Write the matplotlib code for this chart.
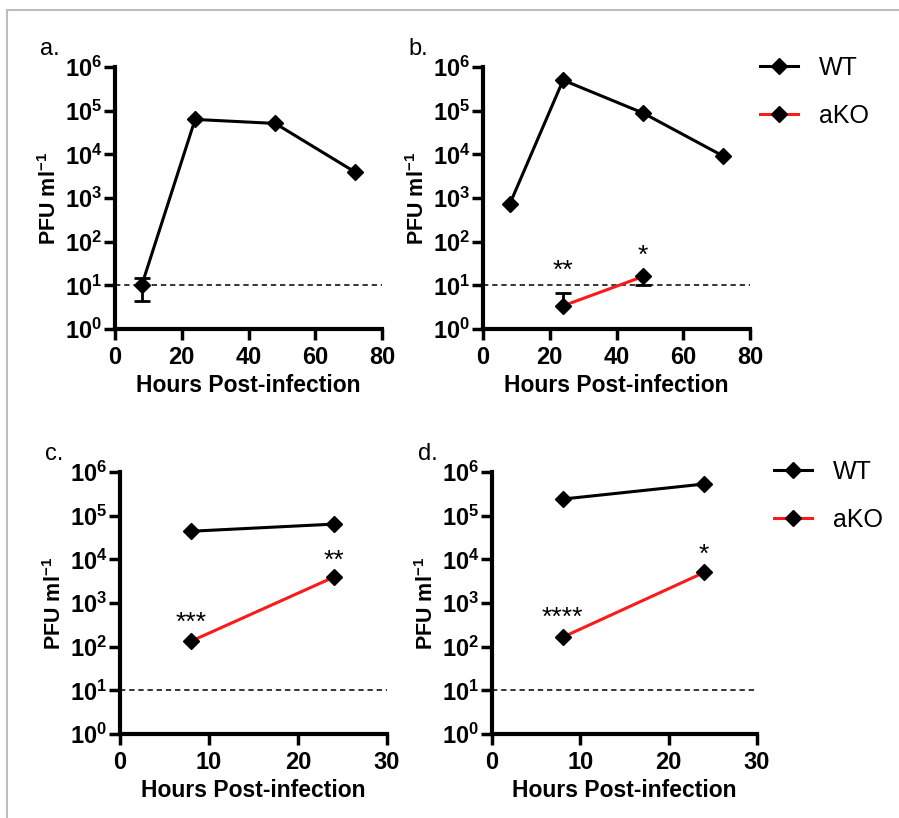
import numpy as np
import matplotlib
matplotlib.use("Agg")
import matplotlib.pyplot as plt
from matplotlib.lines import Line2D
from matplotlib.ticker import LogLocator, NullFormatter, FixedLocator, FuncFormatter

plt.rcParams["font.family"] = ["Liberation Sans", "DejaVu Sans"]
plt.rcParams["mathtext.fontset"] = "custom"
plt.rcParams["mathtext.rm"] = "Liberation Sans:bold"
plt.rcParams["mathtext.it"] = "Liberation Sans:bold"
plt.rcParams["mathtext.bf"] = "Liberation Sans:bold"

# --- data ---
hours_a = [8, 24, 48, 72]
wt_a = [10, 6.3e4, 5.1e4, 3.9e3]
err_a_x = [8]
err_a_lo = [4.4]
err_a_hi = [15]

hours_b = [8, 24, 48, 72]
wt_b = [7.2e2, 5.0e5, 8.8e4, 9.1e3]
hours_b_ko = [24, 48]
ako_b = [3.4, 16]
ako_b_lo = [3.4, 10]      # lower error bound (== value means none)
ako_b_hi = [6.6, 16]      # upper error bound
stars_b = ["**", "*"]
stars_b_y = [10**1.42, 10**1.78]

hours_cd = [8, 24]
wt_c = [4.4e4, 6.4e4]
ako_c = [1.34e2, 3.9e3]
stars_c = ["***", "**"]
stars_c_y = [10**2.65, 10**4.07]

wt_d = [2.4e5, 5.3e5]
ako_d = [1.65e2, 5.0e3]
stars_d = ["****", "*"]
stars_d_y = [10**2.75, 10**4.2]

detection_limit = 10

RED = "#ff1a1a"
LW = 2.2
MS = 8


def style_axis(ax, xmax, xstep, label):
    ax.set_yscale("log")
    ax.set_ylim(1, 1e6)
    ax.set_xlim(0, xmax)
    ax.spines["top"].set_visible(False)
    ax.spines["right"].set_visible(False)
    for s in ("left", "bottom"):
        ax.spines[s].set_linewidth(3)
    ax.yaxis.set_major_locator(FixedLocator([10.0**k for k in range(7)]))
    ax.yaxis.set_major_formatter(
        FuncFormatter(lambda v, p: r"$10^{%d}$" % round(np.log10(v))))
    ax.yaxis.set_minor_locator(LogLocator(base=10, subs=np.arange(2, 10)))
    ax.yaxis.set_minor_formatter(NullFormatter())
    ax.set_xticks(np.arange(0, xmax + 1, xstep))
    ax.tick_params(axis="y", which="major", length=8, width=2.5, pad=1,
                   labelsize=17)
    ax.tick_params(axis="y", which="minor", length=5, width=1.8)
    ax.tick_params(axis="x", which="major", length=8, width=2.5, pad=4,
                   labelsize=17)
    for t in ax.get_xticklabels():
        t.set_fontweight("bold")
    ax.set_xlabel("Hours Post-infection", fontsize=16.5, fontweight="bold",
                  labelpad=4)
    ax.set_ylabel(r"PFU ml$^{-1}$", fontsize=15.5, fontweight="bold",
                  labelpad=3)
    ax.axhline(detection_limit, color="black", lw=1.1, ls=(0, (3.5, 2.5)),
               zorder=1)
    ax.text(-0.28, 1.07, label, transform=ax.transAxes, fontsize=17,
            ha="left", va="center")


def one_sided(ax, x, y, lo, hi):
    for xi, yi, l, h in zip(x, y, lo, hi):
        line, caps, bars = ax.errorbar([xi], [yi], yerr=[[yi - l], [h - yi]],
                                       fmt="none", ecolor="black",
                                       elinewidth=2, capsize=6,
                                       capthick=2, zorder=2)
        if yi - l <= 0:
            caps[0].set_visible(False)
        if h - yi <= 0:
            caps[1].set_visible(False)


def stars(ax, x, ys, texts):
    for xi, yi, s in zip(x, ys, texts):
        ax.annotate(s, (xi, yi), xytext=(0, -8), textcoords="offset points",
                    ha="center", va="baseline", fontsize=19)


fig = plt.figure(figsize=(8.99, 8.18), dpi=100)
W, H = 899, 818


def add_axes(l, r, t, b):
    return fig.add_axes([l / W, 1 - b / H, (r - l) / W, (b - t) / H])


ax_a = add_axes(115, 382, 67, 329)
ax_b = add_axes(483, 750, 67, 329)
ax_c = add_axes(120, 387, 472, 734)
ax_d = add_axes(492, 757, 472, 734)

# panel a
style_axis(ax_a, 80, 20, "a.")
one_sided(ax_a, err_a_x, [wt_a[0]], err_a_lo, err_a_hi)
ax_a.plot(hours_a, wt_a, color="black", lw=LW, marker="D", ms=MS, zorder=3)

# panel b
style_axis(ax_b, 80, 20, "b.")
ax_b.plot(hours_b, wt_b, color="black", lw=LW, marker="D", ms=MS, zorder=3)
one_sided(ax_b, hours_b_ko, ako_b, ako_b_lo, ako_b_hi)
ax_b.plot(hours_b_ko, ako_b, color=RED, lw=LW, marker="D", ms=MS,
          mfc="black", mec="black", zorder=3)
stars(ax_b, hours_b_ko, stars_b_y, stars_b)

# panel c
style_axis(ax_c, 30, 10, "c.")
ax_c.plot(hours_cd, wt_c, color="black", lw=LW, marker="D", ms=MS, zorder=3)
ax_c.plot(hours_cd, ako_c, color=RED, lw=LW, marker="D", ms=MS,
          mfc="black", mec="black", zorder=3)
stars(ax_c, hours_cd, stars_c_y, stars_c)

# panel d
style_axis(ax_d, 30, 10, "d.")
ax_d.plot(hours_cd, wt_d, color="black", lw=LW, marker="D", ms=MS, zorder=3)
ax_d.plot(hours_cd, ako_d, color=RED, lw=LW, marker="D", ms=MS,
          mfc="black", mec="black", zorder=3)
stars(ax_d, hours_cd, stars_d_y, stars_d)

# legends
handles = [
    Line2D([], [], color="black", lw=LW, marker="D", ms=MS),
    Line2D([], [], color=RED, lw=LW, marker="D", ms=MS, mfc="black",
           mec="black"),
]
for (x0, y0) in [(760, 56), (774, 460)]:
    fig.legend(handles, ["WT", "aKO"], loc="upper left",
               bbox_to_anchor=(x0 / W, 1 - y0 / H), frameon=False,
               fontsize=18, handlelength=1.5, handletextpad=0.85,
               labelspacing=0.95, borderpad=0, borderaxespad=0)

# grey frame (top and left edges)
fig.add_artist(Line2D([7 / W, 7 / W], [0, 1 - 10 / H], color="#bdbdbd",
                      lw=1.5, transform=fig.transFigure))
fig.add_artist(Line2D([7 / W, 1], [1 - 10 / H, 1 - 10 / H], color="#bdbdbd",
                      lw=1.5, transform=fig.transFigure))

fig.savefig("out.png", dpi=100)
